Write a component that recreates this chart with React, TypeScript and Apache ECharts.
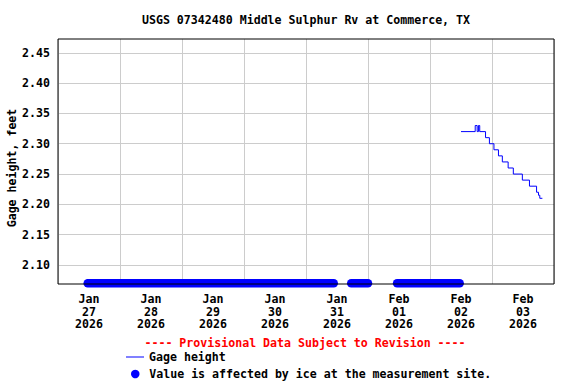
import React, { useEffect, useRef } from "react";
import * as echarts from "echarts";

const DAY = 86400000;
const X_START = Date.UTC(2026, 0, 27);
const X_END = Date.UTC(2026, 1, 4);
const Y_MIN = 2.0687;
const Y_MAX = 2.4727;

const titleText = "USGS 07342480 Middle Sulphur Rv at Commerce, TX";
const yAxisName = "Gage height, feet";
const provisionalText = "---- Provisional Data Subject to Revision ----";
const gageName = "Gage height";
const iceName = "Value is affected by ice at the measurement site.";

const xTickLabels = [
  "Jan\n27\n2026",
  "Jan\n28\n2026",
  "Jan\n29\n2026",
  "Jan\n30\n2026",
  "Jan\n31\n2026",
  "Feb\n01\n2026",
  "Feb\n02\n2026",
  "Feb\n03\n2026",
];
const yTicks = [2.1, 2.15, 2.2, 2.25, 2.3, 2.35, 2.4, 2.45];

const gageTimes = [
  "2026-02-02T12:00Z",
  "2026-02-02T17:30Z",
  "2026-02-02T18:15Z",
  "2026-02-02T18:45Z",
  "2026-02-02T19:15Z",
  "2026-02-02T21:30Z",
  "2026-02-02T23:00Z",
  "2026-02-03T00:45Z",
  "2026-02-03T02:30Z",
  "2026-02-03T04:00Z",
  "2026-02-03T06:15Z",
  "2026-02-03T08:15Z",
  "2026-02-03T11:45Z",
  "2026-02-03T14:30Z",
  "2026-02-03T17:15Z",
  "2026-02-03T18:00Z",
  "2026-02-03T18:30Z",
  "2026-02-03T19:30Z",
];
const gageValues = [
  2.32, 2.33, 2.32, 2.33, 2.32, 2.31, 2.3, 2.29, 2.28, 2.27, 2.26, 2.25, 2.24,
  2.23, 2.22, 2.215, 2.21, 2.21,
];

const iceStarts = ["2026-01-27T11:30Z", "2026-01-31T17:30Z", "2026-02-01T11:15Z"];
const iceEnds = ["2026-01-31T10:45Z", "2026-02-01T00:00Z", "2026-02-02T11:30Z"];

const FONT = "'DejaVu Sans Mono', 'Liberation Mono', monospace";
const FS = 11.6;

export default function App() {
  const ref = useRef<HTMLDivElement>(null);

  useEffect(() => {
    if (!ref.current) return;
    const chart = echarts.init(ref.current, undefined, { renderer: "svg" });

    const labelValues = xTickLabels.map((_, i) => X_START + i * DAY + DAY / 2);
    const gageData = gageTimes.map((t, i) => [Date.parse(t), gageValues[i]]);
    const iceData = iceStarts.map((s, i) => [Date.parse(s), Date.parse(iceEnds[i]), Y_MIN]);

    const gridLeft = 58;
    const gridTop = 39;
    const gridWidth = 496;
    const gridHeight = 245;

    const textStyle = {
      fontFamily: FONT,
      fontSize: FS,
      fontWeight: "bold" as const,
      color: "#000000",
    };

    chart.setOption({
      animation: false,
      backgroundColor: "#ffffff",
      grid: {
        left: gridLeft,
        top: gridTop,
        width: gridWidth,
        height: gridHeight,
        containLabel: false,
      },
      xAxis: {
        type: "value",
        min: X_START,
        max: X_END,
        interval: DAY,
        axisLine: { show: false },
        axisTick: { show: false },
        splitLine: { show: true, lineStyle: { color: "#cccccc", width: 1 } },
        axisLabel: {
          customValues: labelValues,
          margin: 9,
          lineHeight: 12.5,
          ...textStyle,
          formatter: (v: number) => {
            const idx = Math.round((v - X_START - DAY / 2) / DAY);
            return xTickLabels[idx] ?? "";
          },
        },
      },
      yAxis: {
        type: "value",
        min: Y_MIN,
        max: Y_MAX,
        axisLine: { show: false },
        axisTick: { show: false, customValues: yTicks },
        splitLine: { show: true, lineStyle: { color: "#cccccc", width: 1 } },
        axisLabel: {
          customValues: yTicks,
          margin: 8,
          ...textStyle,
          formatter: (v: number) => v.toFixed(2),
        },
      },
      legend: [
        {
          data: [{ name: gageName, icon: "path://M0,0H18V1H0Z" }],
          left: 126,
          top: 350,
          orient: "vertical",
          itemWidth: 18,
          itemHeight: 9,
          padding: 0,
          textStyle: { ...textStyle, lineHeight: 14 },
          selectedMode: false,
        },
        {
          data: [{ name: iceName, icon: "circle" }],
          left: 131,
          top: 367,
          orient: "vertical",
          itemWidth: 18,
          itemHeight: 8.5,
          padding: 0,
          textStyle: { ...textStyle, lineHeight: 14 },
          selectedMode: false,
        },
      ],
      series: [
        {
          name: gageName,
          type: "line",
          step: "end",
          data: gageData,
          symbol: "none",
          lineStyle: { color: "#0000ff", width: 1 },
          itemStyle: { color: "#0000ff" },
          z: 3,
        },
        {
          name: iceName,
          type: "custom",
          data: iceData,
          encode: { x: [0, 1], y: 2 },
          itemStyle: { color: "#0000ff" },
          z: 2,
          renderItem: (params: any, api: any) => {
            const s = api.coord([api.value(0), api.value(2)]);
            const e = api.coord([api.value(1), api.value(2)]);
            const r = 4.25;
            return {
              type: "rect",
              shape: {
                x: s[0] - r,
                y: s[1] - r - 0.8,
                width: e[0] - s[0] + 2 * r,
                height: 2 * r,
                r: r,
              },
              style: { fill: "#0000ff" },
            };
          },
        },
      ],
      graphic: [
        {
          type: "rect",
          z: 100,
          silent: true,
          shape: { x: gridLeft, y: gridTop, width: gridWidth, height: gridHeight },
          style: { fill: "none", stroke: "#000000", lineWidth: 1 },
        },
        {
          type: "text",
          x: gridLeft + gridWidth / 2,
          y: 20,
          style: {
            text: titleText,
            font: `bold ${FS}px ${FONT}`,
            fill: "#000000",
            textAlign: "center",
            textVerticalAlign: "middle",
          },
        },
        {
          type: "text",
          x: 12,
          y: 168,
          rotation: Math.PI / 2,
          style: {
            text: yAxisName,
            font: `bold ${FS}px ${FONT}`,
            fill: "#000000",
            textAlign: "center",
            textVerticalAlign: "middle",
          },
        },
        {
          type: "text",
          x: 305,
          y: 343,
          style: {
            text: provisionalText,
            font: `bold ${FS}px ${FONT}`,
            fill: "#ff0000",
            textAlign: "center",
            textVerticalAlign: "middle",
          },
        },
      ],
    });

    return () => {
      chart.dispose();
    };
  }, []);

  return (
    <div
      ref={ref}
      style={{ position: "fixed", left: 0, top: 0, width: 576, height: 384 }}
    />
  );
}
